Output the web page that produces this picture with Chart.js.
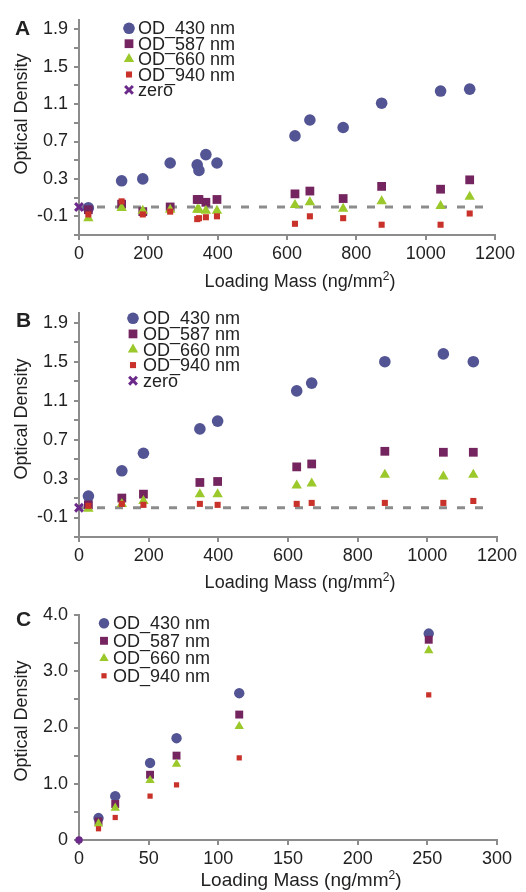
<!DOCTYPE html>
<html>
<head>
<meta charset="utf-8">
<script src="https://cdn.jsdelivr.net/npm/chart.js@4.4.0/dist/chart.umd.min.js"></script>
<style>
  body { margin: 0; background: #fff; }
  #page { position: relative; width: 526px; height: 892px; overflow: hidden; background: #fff; }
  canvas { position: absolute; left: 0; }
  .txt { position: absolute; font-family: "Liberation Sans", Arial, sans-serif; color: #222; white-space: nowrap; line-height: 1; }
  .panel { font-weight: bold; font-size: 21px; }
  .xtitle { font-size: 18px; transform: translate(-50%, -50%); }
  .xtitle sup { font-size: 12px; vertical-align: 7px; line-height: 0; }
  .ytitle { font-size: 18px; transform: translate(-50%, -50%) rotate(-90deg); }
</style>
</head>
<body>
<div id="page">
  <canvas id="chartA" width="526" height="265" style="top:0px"></canvas>
  <canvas id="chartB" width="526" height="277" style="top:290px"></canvas>
  <canvas id="chartC" width="526" height="280" style="top:590px"></canvas>

  <div class="txt panel" style="left:15px;top:17px">A</div>
  <div class="txt panel" style="left:16px;top:309px">B</div>
  <div class="txt panel" style="left:16px;top:608px">C</div>

  <div class="txt ytitle" style="left:21px;top:114px">Optical Density</div>
  <div class="txt ytitle" style="left:21px;top:419px">Optical Density</div>
  <div class="txt ytitle" style="left:21px;top:721px">Optical Density</div>

  <div class="txt xtitle" style="left:300px;top:281px">Loading Mass (ng/mm<sup>2</sup>)</div>
  <div class="txt xtitle" style="left:300px;top:582px">Loading Mass (ng/mm<sup>2</sup>)</div>
  <div class="txt xtitle" style="left:301px;top:879px;font-size:19px">Loading Mass (ng/mm<sup>2</sup>)</div>
</div>

<script>
// panel A
const massA = [27, 123, 184, 263, 341, 346, 366, 398, 623, 666, 762, 873, 1043, 1127];
const od430A = [-0.01, 0.28, 0.30, 0.47, 0.45, 0.39, 0.56, 0.47, 0.76, 0.93, 0.85, 1.11, 1.24, 1.26];
const od587A = [-0.03, 0.03, -0.05, 0.00, 0.08, 0.08, 0.05, 0.08, 0.14, 0.17, 0.09, 0.22, 0.19, 0.29];
const od660A = [-0.12, -0.01, -0.04, -0.03, -0.03, -0.03, -0.04, -0.04, 0.02, 0.05, -0.02, 0.06, 0.01, 0.11];
const od940A = [-0.08, 0.06, -0.08, -0.05, -0.13, -0.12, -0.11, -0.10, -0.18, -0.10, -0.12, -0.19, -0.19, -0.07];

// panel B
const massB = [27, 123, 185, 347, 398, 625, 668, 878, 1046, 1132];
const od430B = [0.12, 0.38, 0.56, 0.81, 0.89, 1.20, 1.28, 1.50, 1.58, 1.50];
const od587B = [0.03, 0.10, 0.14, 0.26, 0.27, 0.42, 0.45, 0.58, 0.57, 0.57];
const od660B = [-0.01, 0.04, 0.07, 0.14, 0.14, 0.23, 0.25, 0.34, 0.32, 0.34];
const od940B = [0.02, 0.04, 0.03, 0.04, 0.03, 0.04, 0.05, 0.05, 0.05, 0.07];

// panel C
const massC = [14, 26, 51, 70, 115, 251];
const od430C = [0.39, 0.78, 1.37, 1.81, 2.61, 3.67];
const od587C = [0.33, 0.64, 1.16, 1.50, 2.23, 3.56];
const od660C = [0.29, 0.57, 1.06, 1.35, 2.02, 3.37];
const od940C = [0.20, 0.40, 0.78, 0.98, 1.46, 2.58];

const seriesNames = ["OD_430 nm", "OD_587 nm", "OD_660 nm", "OD_940 nm"];
const zeroName = "zero";
const zeroLineEnd = 1175;

// ticks
const yTicksAB = [-0.1, 0.3, 0.7, 1.1, 1.5, 1.9];
const yMinorAB = [-0.3, 0.1, 0.5, 0.9, 1.3, 1.7];
const yTicksC = [0, 1, 2, 3, 4];
const yMinorC = [0.5, 1.5, 2.5, 3.5];

const FONT = '"Liberation Sans", Arial, sans-serif';
const colors = ["#525494", "#74245E", "#9BC82A", "#C8322A"];
const zeroColor = "#6B2A8A";
const axisColor = "#8C8C8C";
const styles = ["circle", "rect", "triangle", "rect"];

function toPoints(xs, ys) {
  return xs.map((x, i) => ({ x: x, y: ys[i] }));
}

function seriesSet(xs, ysList, sizes) {
  return ysList.map((ys, i) => ({
    label: seriesNames[i],
    data: toPoints(xs, ys),
    pointStyle: styles[i],
    pointRadius: sizes[i],
    backgroundColor: colors[i],
    borderColor: colors[i],
    borderWidth: 0,
    order: 4 - i,
  }));
}

function zeroSets(withLine, style, radius) {
  const sets = [
    {
      label: zeroName,
      data: [{ x: 0, y: 0 }],
      pointStyle: style,
      pointRadius: radius,
      backgroundColor: zeroColor,
      borderColor: zeroColor,
      borderWidth: style === "crossRot" ? 3 : 0,
      order: 0,
      clip: false,
      hideInLegend: !withLine,
    },
  ];
  if (withLine) {
    sets.push({
      label: "zero line",
      data: [{ x: 0, y: 0 }, { x: zeroLineEnd, y: 0 }],
      showLine: true,
      borderColor: axisColor,
      borderWidth: 3,
      borderDash: [8, 10],
      pointRadius: 0,
      order: 5,
      hideInLegend: true,
    });
  }
  return sets;
}

// simple marker drawing for the legend
function drawMarker(ctx, style, x, y, r, color, lw) {
  ctx.fillStyle = color;
  ctx.strokeStyle = color;
  ctx.beginPath();
  if (style === "circle") {
    ctx.arc(x, y, r, 0, Math.PI * 2);
    ctx.fill();
  } else if (style === "rect") {
    const s = r * Math.SQRT1_2;
    ctx.rect(x - s, y - s, 2 * s, 2 * s);
    ctx.fill();
  } else if (style === "triangle") {
    for (let k = 0; k < 3; k++) {
      const a = -Math.PI / 2 + (k * 2 * Math.PI) / 3;
      const px = x + Math.cos(a) * r;
      const py = y + Math.sin(a) * r;
      if (k === 0) ctx.moveTo(px, py);
      else ctx.lineTo(px, py);
    }
    ctx.closePath();
    ctx.fill();
  } else if (style === "crossRot") {
    const s = r * Math.SQRT1_2;
    ctx.lineWidth = lw || 3;
    ctx.moveTo(x - s, y - s);
    ctx.lineTo(x + s, y + s);
    ctx.moveTo(x + s, y - s);
    ctx.lineTo(x - s, y + s);
    ctx.stroke();
  }
}

const odLegend = {
  id: "odLegend",
  afterDraw(chart, args, opts) {
    const ctx = chart.ctx;
    ctx.save();
    ctx.font = "18px " + FONT;
    ctx.textBaseline = "alphabetic";
    const items = chart.data.datasets.filter((d) => !d.hideInLegend);
    items.forEach((d, i) => {
      const y = opts.y + i * opts.step;
      drawMarker(ctx, d.pointStyle, opts.x, y, d.pointRadius, d.borderColor, d.borderWidth);
      ctx.fillStyle = "#222";
      ctx.fillText(d.label, opts.textX, y + 6);
    });
    ctx.restore();
  },
};

function yScale(min, max, major, minor, fmt) {
  return {
    type: "linear",
    min: min,
    max: max,
    afterBuildTicks: (scale) => {
      scale.ticks = major.concat(minor).sort((a, b) => a - b).map((v) => ({ value: v }));
    },
    afterFit: (scale) => {
      scale.width = 79;
    },
    ticks: {
      autoSkip: false,
      padding: 6,
      color: "#222",
      font: { family: FONT, size: 18 },
      callback: (v) => (major.some((m) => Math.abs(m - v) < 1e-9) ? fmt(v) : ""),
    },
    grid: { drawOnChartArea: false, drawTicks: true, tickLength: 5, color: axisColor, lineWidth: 2 },
    border: { display: true, color: axisColor, width: 2 },
  };
}

function xScale(max, step) {
  return {
    type: "linear",
    min: 0,
    max: max,
    afterFit: (scale) => {
      scale.height = 30;
    },
    ticks: {
      stepSize: step,
      maxRotation: 0,
      padding: 3,
      color: "#222",
      font: { family: FONT, size: 18 },
      callback: (v) => String(v),
    },
    grid: { drawOnChartArea: false, drawTicks: true, tickLength: 5, color: axisColor, lineWidth: 2 },
    border: { display: true, color: axisColor, width: 2 },
  };
}

function makeChart(id, datasets, x, y, pad, legend) {
  return new Chart(document.getElementById(id), {
    type: "scatter",
    data: { datasets: datasets },
    options: {
      responsive: false,
      animation: false,
      devicePixelRatio: 1,
      layout: { padding: pad },
      scales: { x: x, y: y },
      plugins: {
        legend: { display: false },
        tooltip: { enabled: false },
        odLegend: legend,
      },
    },
    plugins: [odLegend],
  });
}

const fmtAB = (v) => v.toFixed(1);
const fmtC = (v) => (v === 0 ? "0" : v.toFixed(1));

makeChart(
  "chartA",
  seriesSet(massA, [od430A, od587A, od660A, od940A], [5.8, 6.2, 6.0, 4.3]).concat(zeroSets(true, "crossRot", 5.5)),
  xScale(1200, 200),
  yScale(-0.3, 2.0, yTicksAB, yMinorAB, fmtAB),
  { top: 20, right: 31, left: 0, bottom: 0 },
  { x: 129, textX: 138, y: 28.3, step: 15.4 }
);

makeChart(
  "chartB",
  seriesSet(massB, [od430B, od587B, od660B, od940B], [5.8, 6.2, 6.0, 4.3]).concat(zeroSets(true, "crossRot", 5.5)),
  xScale(1200, 200),
  yScale(-0.3, 2.0, yTicksAB, yMinorAB, fmtAB),
  { top: 23, right: 29, left: 0, bottom: 0 },
  { x: 133, textX: 143, y: 28.3, step: 15.6 }
);

makeChart(
  "chartC",
  seriesSet(massC, [od430C, od587C, od660C, od940C], [5.2, 5.6, 5.4, 3.7]).concat(zeroSets(false, "circle", 3.8)),
  xScale(300, 50),
  yScale(0, 4, yTicksC, yMinorC, fmtC),
  { top: 25, right: 29, left: 0, bottom: 0 },
  { x: 104, textX: 113, y: 33.3, step: 17.5 }
);
</script>
</body>
</html>
